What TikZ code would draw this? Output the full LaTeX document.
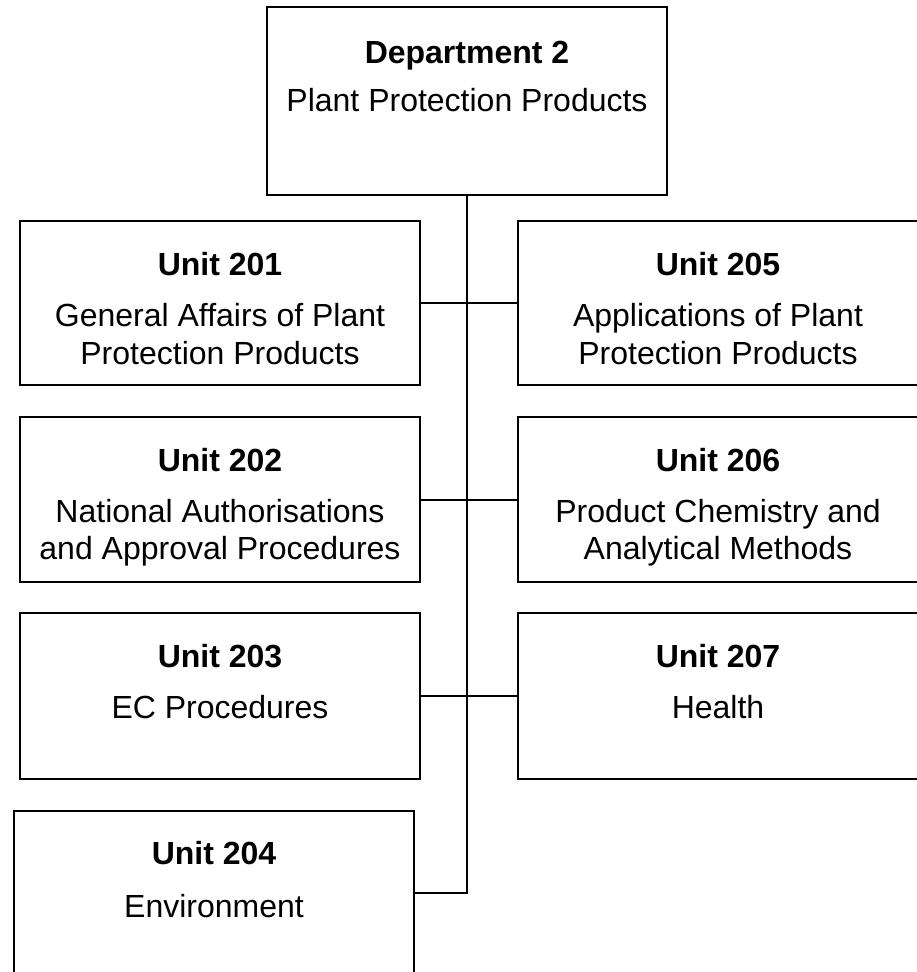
\documentclass[tikz,border=0pt]{standalone}
\usepackage{fontspec}
\setmainfont{Liberation Sans}
\usetikzlibrary{calc}
\begin{document}
\begin{tikzpicture}[x=1pt,y=-1pt,
  box/.style={draw, line width=2pt, minimum width=400pt, inner sep=0pt, outer sep=0pt},
  ttl/.style={font=\fontsize{32}{38}\selectfont\bfseries, anchor=base, inner sep=0pt},
  txt/.style={font=\fontsize{32}{38}\selectfont, anchor=base, inner sep=0pt},
  conn/.style={line width=2pt}]
\useasboundingbox (0,0) rectangle (916,972);

% boxes
\node[box, minimum height=188pt] (top) at (467,101) {};
\node[box, minimum height=164pt] (u201) at (220,303) {};
\node[box, minimum height=164pt] (u205) at (718,303) {};
\node[box, minimum height=165pt] (u202) at (220,499.5) {};
\node[box, minimum height=165pt] (u206) at (718,499.5) {};
\node[box, minimum height=166pt] (u203) at (220,696) {};
\node[box, minimum height=166pt] (u207) at (718,696) {};
\node[box, minimum height=164pt] (u204) at (214,893) {};

% texts
\node[ttl] (topa) at ($(top.north)+(0,56)$) {Department 2};
\node[txt] (topb) at ($(top.north)+(0,104)$) {Plant Protection Products};

\node[ttl] (u201a) at ($(u201.north)+(0,54)$) {Unit 201};
\node[txt] (u201b) at ($(u201.north)+(0,105)$) {General Affairs of Plant};
\node[txt] (u201c) at ($(u201.north)+(0,143)$) {Protection Products};

\node[ttl] (u205a) at ($(u205.north)+(0,54)$) {Unit 205};
\node[txt] (u205b) at ($(u205.north)+(0,105)$) {Applications of Plant};
\node[txt] (u205c) at ($(u205.north)+(0,143)$) {Protection Products};

\node[ttl] (u202a) at ($(u202.north)+(0,54)$) {Unit 202};
\node[txt] (u202b) at ($(u202.north)+(0,105)$) {National Authorisations};
\node[txt] (u202c) at ($(u202.north)+(0,142)$) {and Approval Procedures};

\node[ttl] (u206a) at ($(u206.north)+(0,54)$) {Unit 206};
\node[txt] (u206b) at ($(u206.north)+(0,105)$) {Product Chemistry and};
\node[txt] (u206c) at ($(u206.north)+(0,142)$) {Analytical Methods};

\node[ttl] (u203a) at ($(u203.north)+(0,54)$) {Unit 203};
\node[txt] (u203b) at ($(u203.north)+(0,105)$) {EC Procedures};

\node[ttl] (u207a) at ($(u207.north)+(0,54)$) {Unit 207};
\node[txt] (u207b) at ($(u207.north)+(0,105)$) {Health};

\node[ttl] (u204a) at ($(u204.north)+(0,53)$) {Unit 204};
\node[txt] (u204b) at ($(u204.north)+(0,106)$) {Environment};

% connectors
\draw[conn] (top.south) |- (u204.east);
\draw[conn] (u201.east) -- (u205.west);
\draw[conn] (u202.east) -- (u206.west);
\draw[conn] (u203.east) -- (u207.west);
\end{tikzpicture}
\end{document}
